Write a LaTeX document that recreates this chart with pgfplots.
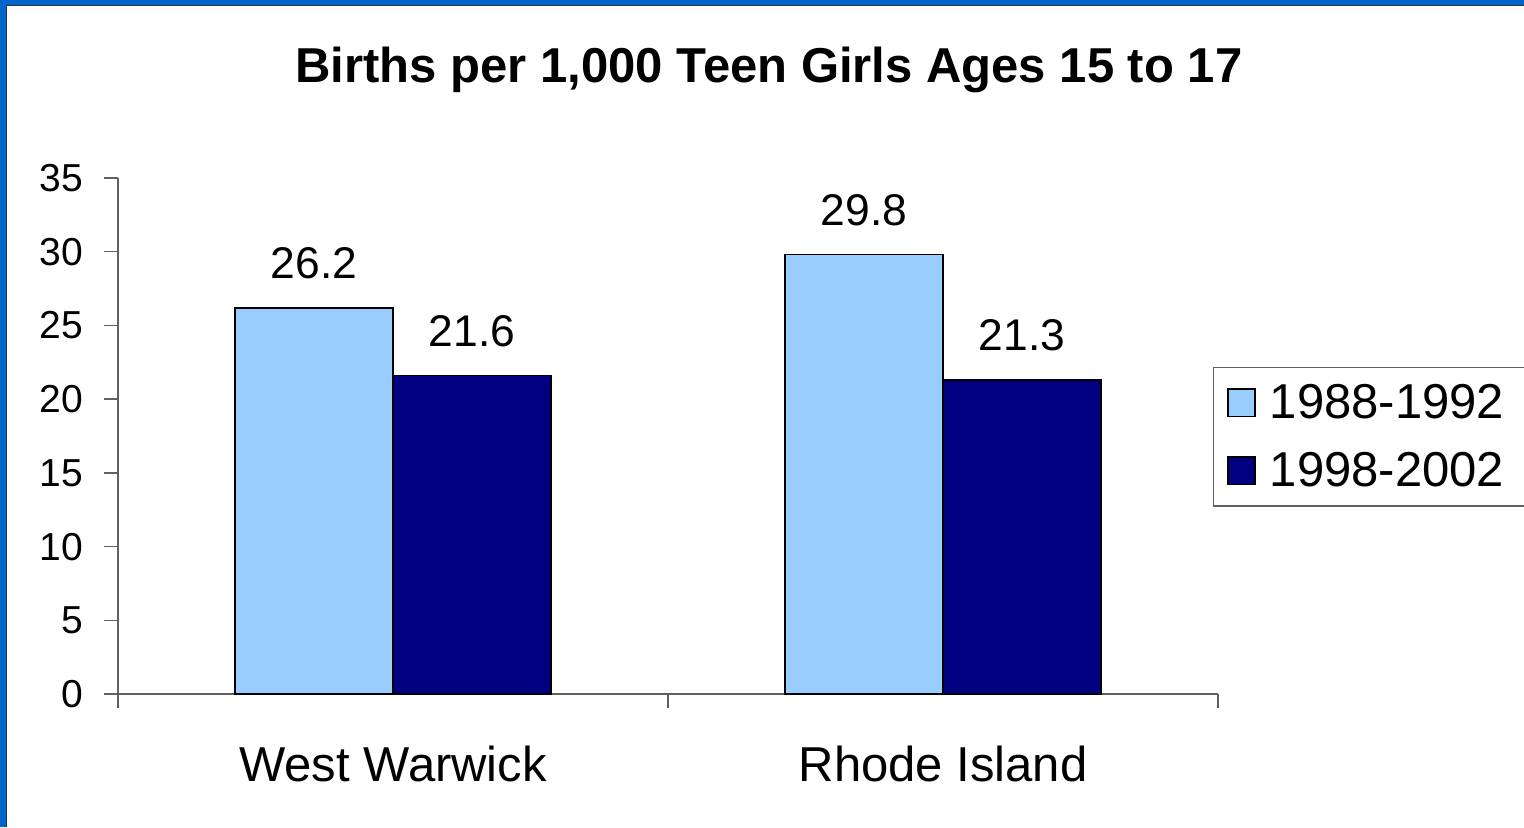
\documentclass[border=0pt]{standalone}
\usepackage{fontspec}
\setmainfont{Liberation Sans}
\usepackage{pgfplots}
\pgfplotsset{compat=1.18}
\definecolor{framblue}{HTML}{0066CC}
\definecolor{lightbar}{HTML}{99CCFF}
\definecolor{darkbar}{HTML}{000080}
\definecolor{axisgray}{HTML}{606060}
\begin{document}
\begin{tikzpicture}
\useasboundingbox (0,0) rectangle (762pt,413.5pt);
% frame
\fill[framblue] (0,0) rectangle (762pt,413.5pt);
\fill[white] (3.3pt,0) rectangle (762pt,410.7pt);
\draw[black!80, line width=0.6pt] (3.3pt,0) -- (3.3pt,410.7pt) -- (762pt,410.7pt);
\node[anchor=base, font=\fontsize{24.5}{29}\selectfont\bfseries] at (384.5pt,372.5pt) {Births per 1,000 Teen Girls Ages 15 to 17};
\begin{axis}[
  at={(59pt,66.5pt)}, anchor=south west,
  scale only axis, width=550pt, height=258pt,
  ybar=0pt, bar width=79pt,
  xmin=-0.5, xmax=1.5, ymin=0, ymax=35,
  axis lines=left,
  axis line style={axisgray, line width=0.7pt, -},
  tick style={axisgray, line width=0.7pt},
  tick align=outside,
  major tick length=7pt,
  xtick={-0.5,0.5,1.5}, xticklabels={},
  extra x ticks={0,1}, extra x tick labels={West Warwick, Rhode Island},
  extra x tick style={major tick length=0pt, tick style={draw=none},
    xticklabel style={font=\fontsize{24.5}{29}\selectfont, anchor=base, yshift=-43.5pt}},
  ytick={0,5,...,35},
  /pgf/number format/assume math mode=true,
  yticklabel style={font=\fontsize{19.5}{23}\selectfont, xshift=-7pt},
  nodes near coords,
  nodes near coords style={font=\fontsize{22.2}{26}\selectfont, anchor=base, yshift=14.5pt, inner sep=0pt},
  point meta=explicit symbolic,
  legend style={at={(0.9955,0.4985)}, anchor=west, draw=axisgray, line width=0.6pt,
    font=\fontsize{24.5}{29}\selectfont, inner xsep=6.8pt, inner ysep=6.3pt, row sep=11.5pt,
    nodes={inner xsep=4pt}},
  legend cell align=left,
  legend image code/.code={\draw[#1, line width=0.7pt] (0pt,-6.9pt) rectangle (13.5pt,6.9pt);
    \path[draw=none, fill=none] (0pt,0pt) -- (17pt,0pt);},
  clip=false,
]
\addplot[fill=lightbar, draw=black, line width=0.8pt] coordinates {(0,26.2) [26.2] (1,29.8) [29.8]};
\addplot[fill=darkbar, draw=black, line width=0.8pt] coordinates {(0,21.6) [21.6] (1,21.3) [21.3]};
\legend{1988-1992, 1998-2002}
\end{axis}
\end{tikzpicture}
\end{document}
